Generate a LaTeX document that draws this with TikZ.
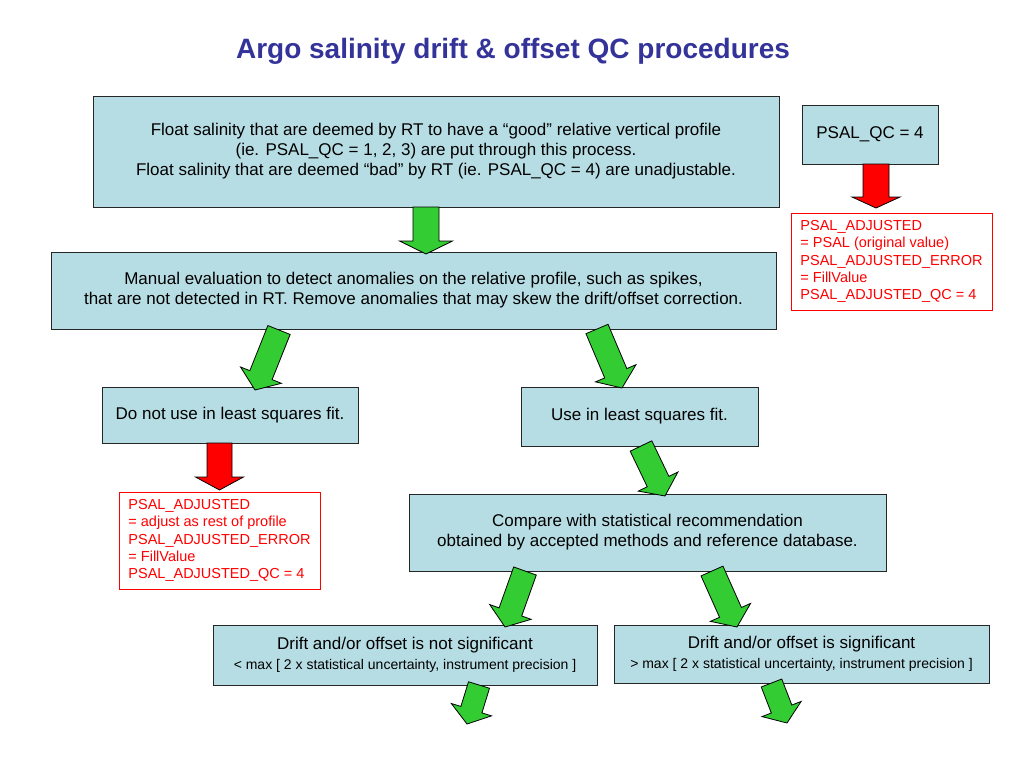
\documentclass[tikz,border=0pt]{standalone}
\usepackage{fontspec}
\setmainfont{Liberation Sans}
\usetikzlibrary{calc}
\definecolor{boxblue}{RGB}{183,221,228}
\definecolor{arrgreen}{RGB}{51,204,51}
\definecolor{titleblue}{RGB}{51,51,153}
\definecolor{redtxt}{RGB}{255,0,0}
% #1 start, #2 tip, #3 half shaft, #4 half head, #5 head length, #6 colour
\newcommand\blockarrow[6]{%
  \draw[fill=#6,draw=black,line width=0.8pt,line join=miter]
   let \p1=($(#2)-(#1)$), \n1={veclen(\x1,\y1)}, \n2={atan2(\y1,\x1)} in
   [shift={(#1)},rotate=\n2]
   (0,#3) -- ({\n1-#5},#3) -- ({\n1-#5},#4) -- (\n1,0) -- ({\n1-#5},-#4) -- ({\n1-#5},-#3) -- (0,-#3) -- cycle;}
\begin{document}
\begin{tikzpicture}[x=1pt,y=1pt,
  qbox/.style={draw=black!85, line width=0.9pt, fill=boxblue, inner sep=0pt,
    align=center, text=black, font=\fontsize{17}{20}\selectfont},
  rbox/.style={draw=redtxt, line width=0.8pt, fill=white, inner sep=0pt,
    align=left, text=redtxt, font=\fontsize{14.5}{17.2}\selectfont}]
\useasboundingbox[fill=white] (0,0) rectangle (1024,-768);

\node[text=titleblue, font=\fontsize{28}{32}\bfseries\selectfont] (title) at (513,-51)
  {Argo salinity drift \& offset QC procedures};

\node[qbox, minimum width=686pt, minimum height=111pt] (top) at (436,-151.5)
  {Float salinity that are deemed by RT to have a “good” relative vertical profile\\
   (ie. PSAL\_QC = 1, 2, 3) are put through this process.\\
   Float salinity that are deemed “bad” by RT (ie. PSAL\_QC = 4) are unadjustable.};

\node[qbox, minimum width=136pt, minimum height=59pt] (qc4) at (870,-134.5) {PSAL\_QC = 4};

\node[rbox, minimum width=201pt, minimum height=97pt] (red1) at (891.5,-261.5)
  {PSAL\_ADJUSTED\\ = PSAL (original value)\\ PSAL\_ADJUSTED\_ERROR\\ = FillValue\\ PSAL\_ADJUSTED\_QC = 4};

\node[qbox, minimum width=725pt, minimum height=77pt] (manual) at (413.5,-290.5)
  {Manual evaluation to detect anomalies on the relative profile, such as spikes,\\
   that are not detected in RT. Remove anomalies that may skew the drift/offset correction.};

\node[qbox, minimum width=256pt, minimum height=56pt] (donot) at (230,-415)
  {Do not use in least squares fit.};

\node[qbox, minimum width=237pt, minimum height=59pt] (use) at (639.5,-416.5)
  {Use in least squares fit.};

\node[rbox, minimum width=201pt, minimum height=97pt] (red2) at (219.5,-540.5)
  {PSAL\_ADJUSTED\\ = adjust as rest of profile\\ PSAL\_ADJUSTED\_ERROR\\ = FillValue\\ PSAL\_ADJUSTED\_QC = 4};

\node[qbox, minimum width=477pt, minimum height=77pt] (compare) at (647.5,-532.5)
  {Compare with statistical recommendation\\
   obtained by accepted methods and reference database.};

\node[qbox, minimum width=384pt, minimum height=60pt] (notsig) at (405,-655)
  {Drift and/or offset is not significant\\
   {\fontsize{14}{19}\selectfont < max [ 2 x statistical uncertainty, instrument precision ]}};

\node[qbox, minimum width=375pt, minimum height=58pt] (sig) at (801.5,-654)
  {Drift and/or offset is significant\\
   {\fontsize{14}{19}\selectfont > max [ 2 x statistical uncertainty, instrument precision ]}};

% arrow end points on the boxes
\coordinate (a1s) at (426,-207);   \coordinate (a1e) at (426,-254);
\coordinate (r1s) at (876,-164);   \coordinate (r1e) at (876,-208);
\coordinate (r2s) at (219.5,-443); \coordinate (r2e) at (219.5,-490);
\coordinate (g1s) at (279,-330);   \coordinate (g1e) at (255,-390);
\coordinate (g2s) at (597,-329);   \coordinate (g2e) at (622,-388);
\coordinate (g3s) at (641,-446);   \coordinate (g3e) at (665,-496);
\coordinate (g4s) at (525,-571);   \coordinate (g4e) at (505,-627);
\coordinate (g5s) at (712,-571);   \coordinate (g5e) at (737,-627);
\coordinate (g6s) at (479,-685);   \coordinate (g6e) at (467,-724);
\coordinate (g7s) at (771.5,-683); \coordinate (g7e) at (787,-723);

\blockarrow{a1s}{a1e}{13}{26.5}{13}{arrgreen}
\blockarrow{r1s}{r1e}{13}{24}{11}{redtxt}
\blockarrow{r2s}{r2e}{12.5}{24}{13}{redtxt}
\blockarrow{g1s}{g1e}{12}{22}{16}{arrgreen}
\blockarrow{g2s}{g2e}{12}{22}{16}{arrgreen}
\blockarrow{g3s}{g3e}{12}{22}{16}{arrgreen}
\blockarrow{g4s}{g4e}{12}{22}{16}{arrgreen}
\blockarrow{g5s}{g5e}{12}{22}{16}{arrgreen}
\blockarrow{g6s}{g6e}{11}{21}{15}{arrgreen}
\blockarrow{g7s}{g7e}{11}{21}{15}{arrgreen}
\end{tikzpicture}
\end{document}
